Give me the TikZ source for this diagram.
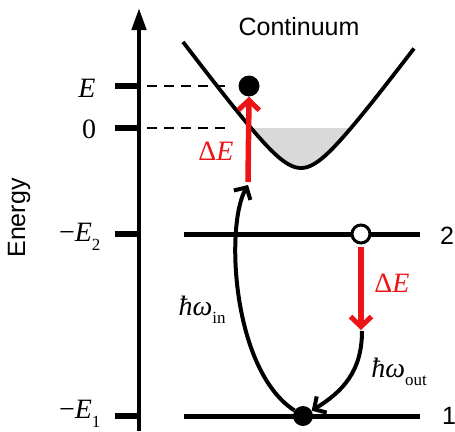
\documentclass[tikz,border=0pt]{standalone}
\usepackage{fontspec}
\setmainfont{Liberation Serif}
\setsansfont{Liberation Sans}
\usetikzlibrary{arrows.meta}
\newcommand{\lsub}[1]{\raisebox{-0.3em}{\fontsize{17}{17}\selectfont #1}}
\definecolor{myred}{RGB}{236,20,20}
\begin{document}
\begin{tikzpicture}[x=1pt,y=-1pt,
  axisln/.style={line width=4.5pt,-{Triangle[length=22pt,width=14pt]}},
  tickln/.style={line width=6pt},
  dashln/.style={line width=2.8pt,dash pattern=on 10pt off 7pt},
  lvl/.style={line width=5pt},
  curve/.style={line width=3.8pt},
  redarr/.style={draw=myred,line width=5.5pt,-{Straight Barb[length=10pt,width=21pt,line width=5pt]}},
  barr/.style={line width=4pt,-{Straight Barb[length=9pt,width=19pt,line width=4pt]}},
  mathlbl/.style={font=\fontsize{28}{28}\selectfont},
  sanslbl/.style={font=\sffamily\fontsize{25}{25}\selectfont},
  dot/.style={circle,fill=black,inner sep=0pt,minimum size=21pt},
  odot/.style={circle,draw=black,fill=white,line width=3pt,inner sep=0pt,minimum size=18pt}
]
\useasboundingbox (0,0) rectangle (455,431);
% fill under zero level
\fill[gray!30] plot[domain=-50:50,samples=60] ({301+\x},{168-36.2*(sqrt(1+(\x/27)^2)-1)}) -- cycle;
% axis
\coordinate (axB) at (139,431);
\coordinate (axT) at (139,8);
\draw[axisln] (axB) -- (axT);
% ticks
\draw[tickln] (115,86) -- (139,86);
\draw[tickln] (115,128) -- (139,128);
\draw[tickln] (115,234) -- (139,234);
\draw[tickln] (115,416) -- (139,416);
% dashed
\draw[dashln] (147,86) -- (232,86);
\draw[dashln] (147,128) -- (232,128);
% levels
\draw[lvl] (184,234) -- (420,234);
\draw[lvl] (184,416) -- (420,416);
% continuum curve
\draw[curve] plot[domain=-118:113,samples=150,smooth] ({301+\x},{168-36.2*(sqrt(1+(\x/27)^2)-1)});
% dots
\node[dot] (eDot) at (249,86) {};
\node[odot] (oDot) at (361,234) {};
\node[dot,minimum size=20pt] (gDot) at (303,416) {};
% coordinates
\coordinate (upS) at (248,182);
\coordinate (inTip) at (248,185);
\coordinate (dnE) at (361,330);
\coordinate (outS) at (362,331);
% red arrows
\draw[redarr] (upS) -- (eDot.south);
\draw[redarr,shorten <=2pt] (oDot.south) -- (dnE);
% black arrows
\draw[barr] (gDot) .. controls (232,370) and (225,225) .. (inTip);
\draw[barr] (outS) .. controls (362,372) and (342,392) .. (gDot);
% labels
\node[sanslbl] (cont) at (299,27) {Continuum};
\node[sanslbl,rotate=90] (energy) at (19,218) {Energy};
\node[sanslbl] (l2) at (447,236) {2};
\node[sanslbl] (l1) at (449,416) {1};
\node[mathlbl] (lE) at (87,88) {\textit{E}};
\node[mathlbl] (l0) at (89,129) {0};
\node[mathlbl,anchor=east] (lE2) at (104,237) {−\textit{E}\lsub{2}};
\node[mathlbl,anchor=east] (lE1) at (104,414) {−\textit{E}\lsub{1}};
\node[mathlbl,text=myred] (dE1) at (216,151) {Δ\textit{E}};
\node[mathlbl,text=myred] (dE2) at (392,283) {Δ\textit{E}};
\node[mathlbl] (win) at (202,310) {\textit{ħω}\lsub{in}};
\node[mathlbl] (wout) at (399,372) {\textit{ħω}\lsub{out}};
\end{tikzpicture}
\end{document}
